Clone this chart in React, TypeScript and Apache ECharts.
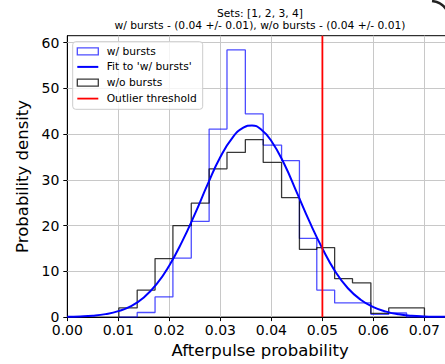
import React, { useEffect, useRef } from "react";
import * as echarts from "echarts";

const FONT = "DejaVu Sans";

// Histogram bin edges (shared by both histograms)
const binEdges = [0.0101, 0.0137, 0.0172, 0.0207, 0.0243, 0.0278, 0.0313, 0.0349, 0.0384, 0.042, 0.0455, 0.0489, 0.0524, 0.0559, 0.0595, 0.063, 0.0665, 0.07];
// Density per bin, "w/ bursts"
const withBursts = [0, 1.0, 4.4, 12.9, 20.9, 41.1, 58.4, 44.4, 37.6, 34.2, 17.2, 5.9, 3.1, 3.1, 0.6, 0.9, 0];
// Density per bin, "w/o bursts"
const withoutBursts = [2.0, 5.9, 12.8, 20.0, 24.9, 32.4, 36.0, 38.8, 33.8, 26.1, 14.8, 15.2, 8.4, 7.5, 0.8, 2.0, 2.0];
// Fit to "w/ bursts"
const fitX = [0, 0.0025, 0.005, 0.0075, 0.01, 0.0125, 0.015, 0.0175, 0.02, 0.0225, 0.025, 0.0275, 0.03, 0.0325, 0.0345, 0.0362, 0.038, 0.04, 0.0425, 0.045, 0.0475, 0.05, 0.0525, 0.055, 0.0575, 0.06, 0.0625, 0.065, 0.0675, 0.07, 0.0725, 0.075];
const fitY = [0.1, 0.15, 0.3, 0.65, 1.3, 2.4, 4.3, 7.2, 11.3, 16.5, 22.5, 29.0, 35.0, 39.4, 41.4, 41.9, 41.0, 38.5, 33.5, 27.2, 20.8, 15.0, 10.0, 6.3, 3.8, 2.2, 1.2, 0.6, 0.3, 0.15, 0.08, 0.04];
const threshold = 0.05;

const xTicks = [0, 0.01, 0.02, 0.03, 0.04, 0.05, 0.06, 0.07];
const yTicks = [0, 10, 20, 30, 40, 50, 60];
const xMax = 0.0756;
const yMax = 61.5;

const titleLine1 = "Sets: [1, 2, 3, 4]";
const titleLine2 = "w/ bursts - (0.04 +/- 0.01), w/o bursts - (0.04 +/- 0.01)";

const BLUE_H = "rgba(0,0,255,0.7)";
const BLACK_H = "rgba(0,0,0,0.78)";
const BLUE = "#0000ff";
const RED = "#ff0000";
const GRID = "#c8c8c8";

const W = 445;
const H = 364;
const CHART_W = 470; // the axes run past the right edge of the picture

function stepPoints(edges: number[], heights: number[]) {
  const pts: number[][] = [[edges[0], 0]];
  heights.forEach((h, i) => {
    pts.push([edges[i], h]);
    pts.push([edges[i + 1], h]);
  });
  pts.push([edges[edges.length - 1], 0]);
  return pts;
}

export default function App() {
  const ref = useRef<HTMLDivElement>(null);
  useEffect(() => {
    if (!ref.current) return;
    const chart = echarts.init(ref.current, null, { renderer: "svg" });
    const legendX = 72.7;
    const legendY = 41.7;
    const rows = [51.3, 66.9, 82.7, 98.6];
    const patchX = 77.3;
    const patchW = 21;
    const textX = 106.7;
    const Z = 100;
    const tstyle = (text: string, y: number) => ({
      type: "text",
      z: Z + 1,
      x: textX,
      y,
      style: { text, fill: "#000", font: `10.7px '${FONT}'`, textVerticalAlign: "middle", textAlign: "left" },
    });
    chart.setOption({
      animation: false,
      grid: {
        left: 67.3,
        top: 35.7,
        right: CHART_W - 453,
        bottom: 41.3,
        show: true,
        borderColor: "#000",
        borderWidth: 1,
        backgroundColor: "transparent",
      },
      xAxis: {
        type: "value",
        min: 0,
        max: xMax,
        interval: 0.01,
        name: "Afterpulse probability",
        nameLocation: "middle",
        nameGap: 24,
        nameTextStyle: { fontFamily: FONT, fontSize: 16.5, color: "#000" },
        axisLine: { show: true, onZero: false, lineStyle: { color: "#000", width: 1 } },
        axisTick: { show: true, length: 4, inside: false, lineStyle: { color: "#000" }, customValues: xTicks },
        axisLabel: {
          fontFamily: FONT,
          fontSize: 14,
          color: "#000",
          margin: 6,
          customValues: xTicks,
          formatter: (v: number) => (xTicks.some((t) => Math.abs(t - v) < 1e-9) ? v.toFixed(2) : ""),
        },
        splitLine: { show: false },
      },
      yAxis: {
        type: "value",
        min: 0,
        max: yMax,
        interval: 10,
        name: "Probability density",
        nameLocation: "middle",
        nameGap: 28,
        nameTextStyle: { fontFamily: FONT, fontSize: 16.5, color: "#000" },
        axisLine: { show: true, onZero: false, lineStyle: { color: "#000", width: 1 } },
        axisTick: { show: true, length: 4, inside: false, lineStyle: { color: "#000" }, customValues: yTicks },
        axisLabel: {
          fontFamily: FONT,
          fontSize: 14,
          color: "#000",
          margin: 8,
          customValues: yTicks,
          formatter: (v: number) => (yTicks.includes(v) ? String(v) : ""),
        },
        splitLine: { show: false },
      },
      series: [
        {
          type: "line",
          name: "w/ bursts",
          data: stepPoints(binEdges, withBursts),
          symbol: "none",
          silent: true,
          lineStyle: { color: BLUE_H, width: 1.3 },
          itemStyle: { color: BLUE_H },
          z: 2,
          markLine: {
            silent: true,
            symbol: "none",
            label: { show: false },
            lineStyle: { color: GRID, width: 1, type: "solid" },
            z: 1,
            data: [
              ...xTicks.filter((v) => v > 0).map((v) => ({ xAxis: v })),
              ...yTicks.filter((v) => v > 0).map((v) => ({ yAxis: v })),
            ],
          },
        },
        {
          type: "line",
          name: "w/o bursts",
          data: stepPoints(binEdges, withoutBursts),
          symbol: "none",
          silent: true,
          lineStyle: { color: BLACK_H, width: 1.3 },
          itemStyle: { color: BLACK_H },
          z: 3,
        },
        {
          type: "line",
          name: "Fit to 'w/ bursts'",
          data: fitX.map((x, i) => [x, fitY[i]]),
          smooth: 0.5,
          symbol: "none",
          silent: true,
          lineStyle: { color: BLUE, width: 2 },
          itemStyle: { color: BLUE },
          z: 4,
        },
        {
          type: "line",
          name: "Outlier threshold",
          data: [
            [threshold, 0],
            [threshold, yMax],
          ],
          symbol: "none",
          silent: true,
          lineStyle: { color: RED, width: 1.8 },
          itemStyle: { color: RED },
          z: 5,
        },
      ],
      graphic: [
        {
          type: "text",
          x: 260,
          y: 13,
          style: { text: titleLine1, fill: "#000", font: `10.7px '${FONT}'`, textAlign: "center", textVerticalAlign: "middle" },
        },
        {
          type: "text",
          x: 260,
          y: 25.5,
          style: { text: titleLine2, fill: "#000", font: `10.7px '${FONT}'`, textAlign: "center", textVerticalAlign: "middle" },
        },
        {
          type: "rect",
          z: Z,
          shape: { x: legendX, y: legendY, width: 130, height: 67.6, r: 3 },
          style: { fill: "rgba(255,255,255,0.8)", stroke: "#cccccc", lineWidth: 1 },
        },
        {
          type: "rect",
          z: Z + 1,
          shape: { x: patchX, y: rows[0] - 3.5, width: patchW, height: 7 },
          style: { fill: "none", stroke: BLUE_H, lineWidth: 1.3 },
        },
        tstyle("w/ bursts", rows[0]),
        {
          type: "line",
          z: Z + 1,
          shape: { x1: patchX, y1: rows[1], x2: patchX + patchW, y2: rows[1] },
          style: { stroke: BLUE, lineWidth: 2 },
        },
        tstyle("Fit to 'w/ bursts'", rows[1]),
        {
          type: "rect",
          z: Z + 1,
          shape: { x: patchX, y: rows[2] - 3.5, width: patchW, height: 7 },
          style: { fill: "none", stroke: BLACK_H, lineWidth: 1.3 },
        },
        tstyle("w/o bursts", rows[2]),
        {
          type: "line",
          z: Z + 1,
          shape: { x1: patchX, y1: rows[3], x2: patchX + patchW, y2: rows[3] },
          style: { stroke: RED, lineWidth: 1.8 },
        },
        tstyle("Outlier threshold", rows[3]),
        {
          type: "bezierCurve",
          z: Z,
          shape: { x1: 432, y1: 1, cpx1: 441, cpy1: 2, x2: 446, y2: 9 },
          style: { stroke: "#222", lineWidth: 2.5, fill: "none" },
        },
      ],
    });
    return () => chart.dispose();
  }, []);
  return (
    <div style={{ position: "fixed", left: 0, top: 0, width: W, height: H, overflow: "hidden", background: "#fff" }}>
      <div ref={ref} style={{ width: CHART_W, height: H }} />
    </div>
  );
}
